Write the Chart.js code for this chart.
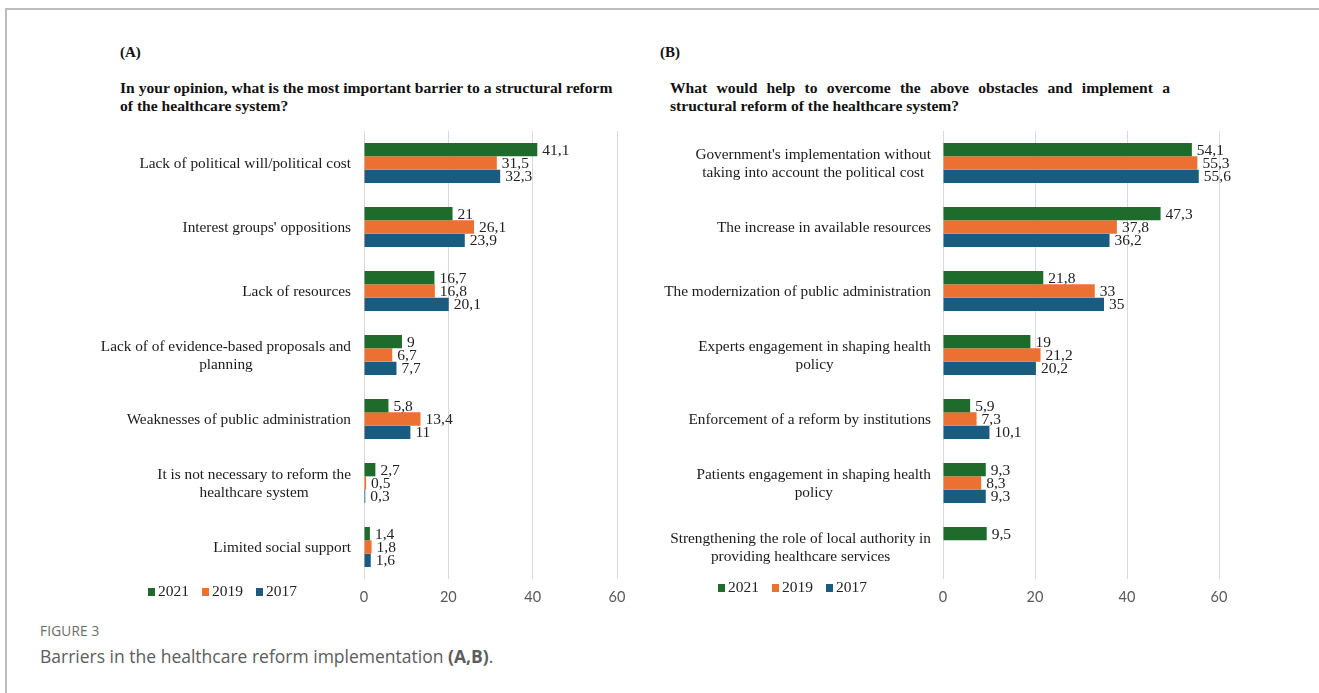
<!DOCTYPE html>
<html>
<head>
<meta charset="utf-8">
<script src="https://cdn.jsdelivr.net/npm/chart.js@4.4.1/dist/chart.umd.min.js"></script>
<style>
  html, body { margin: 0; padding: 0; background: #fff; }
  #wrap { position: relative; width: 1319px; height: 693px; overflow: hidden; background: #fff; }
  .frameTop { position: absolute; left: 5px; top: 8px; width: 1314px; height: 2px; background: #bdbdbd; }
  .frameLeft { position: absolute; left: 5px; top: 8px; width: 2px; height: 685px; background: #bdbdbd; }
  .serif { font-family: "Liberation Serif", "Times New Roman", serif; color: #111; }
  .panelTag { position: absolute; font-weight: bold; font-size: 15px; line-height: 18px; }
  .title { position: absolute; font-weight: bold; font-size: 15.6px; line-height: 18px; white-space: nowrap; }
  .just { text-align: justify; text-align-last: justify; width: 500px; }
  canvas { position: absolute; }
  .legend { position: absolute; font-family: "Liberation Serif", serif; font-size: 15.5px; color: #222; white-space: nowrap; line-height: 16px; }
  .legend span.sw { display: inline-block; width: 7px; height: 8px; margin-right: 3px; vertical-align: 0px; }
  .legend span.it { margin-right: 13px; }
  .cap1 { position: absolute; left: 40px; top: 621px; font-family: "Open Sans", sans-serif; font-size: 13.6px; color: #6a6a6a; letter-spacing: 0.2px; }
  .cap2 { position: absolute; left: 40px; top: 644px; font-family: "Open Sans", sans-serif; font-size: 17.5px; color: #5c5c5c; }
</style>
</head>
<body>
<div id="wrap">
  <div class="frameTop"></div>
  <div class="frameLeft"></div>

  <div class="panelTag serif" style="left:120px; top:43px;">(A)</div>
  <div class="title serif" style="left:120px; top:79px;">In your opinion, what is the most important barrier to a structural reform<br>of the healthcare system?</div>

  <div class="panelTag serif" style="left:660px; top:43px;">(B)</div>
  <div class="title serif" style="left:670px; top:79px;"><div class="just">What would help to overcome the above obstacles and implement a</div><div>structural reform of the healthcare system?</div></div>

  <canvas id="chartA" width="650" height="489" style="left:0px; top:120px;"></canvas>
  <canvas id="chartB" width="620" height="489" style="left:650px; top:120px;"></canvas>

  <div class="legend" id="legA" style="left:148px; top:583px;"></div>
  <div class="legend" id="legB" style="left:718px; top:579px;"></div>

  <div class="cap1">FIGURE 3</div>
  <div class="cap2">Barriers in the healthcare reform implementation <b>(A,B)</b>.</div>
</div>

<script>
// ---- Data ----
const seriesNames = ["2021", "2019", "2017"];
const seriesColors = ["#1f6b2c", "#ec7032", "#1c5b80"];

const categoriesA = [
  "Lack of political will/political cost",
  "Interest groups' oppositions",
  "Lack of resources",
  ["Lack of of evidence-based proposals and", "planning"],
  "Weaknesses of public administration",
  ["It is not necessary to reform the", "healthcare system"],
  "Limited social support"
];
const a2021 = [41.1, 21, 16.7, 9, 5.8, 2.7, 1.4];
const a2019 = [31.5, 26.1, 16.8, 6.7, 13.4, 0.5, 1.8];
const a2017 = [32.3, 23.9, 20.1, 7.7, 11, 0.3, 1.6];

const categoriesB = [
  ["Government's implementation without", "taking into account the political cost"],
  "The increase in available resources",
  "The modernization of public administration",
  ["Experts engagement in shaping health", "policy"],
  "Enforcement of a reform by institutions",
  ["Patients engagement in shaping health", "policy"],
  ["Strengthening the role of local authority in", "providing healthcare services"]
];
const b2021 = [54.1, 47.3, 21.8, 19, 5.9, 9.3, 9.5];
const b2019 = [55.3, 37.8, 33, 21.2, 7.3, 8.3, null];
const b2017 = [55.6, 36.2, 35, 20.2, 10.1, 9.3, null];

const xTicks = [0, 20, 40, 60];

// ---- Plugins ----
const valueLabels = {
  id: 'valueLabels',
  afterDatasetsDraw(chart) {
    const ctx = chart.ctx;
    ctx.save();
    ctx.font = '15.5px "Liberation Serif", serif';
    ctx.fillStyle = '#222';
    ctx.textAlign = 'left';
    ctx.textBaseline = 'middle';
    chart.data.datasets.forEach((ds, di) => {
      const meta = chart.getDatasetMeta(di);
      meta.data.forEach((el, i) => {
        const v = ds.data[i];
        if (v === null || v === undefined) return;
        ctx.fillText(String(v).replace('.', ','), el.x + 5, el.y + 1);
      });
    });
    ctx.restore();
  }
};

const catLabels = {
  id: 'catLabels',
  afterDraw(chart, args, opts) {
    const ctx = chart.ctx;
    const y = chart.scales.y;
    ctx.save();
    ctx.font = '15.3px "Liberation Serif", serif';
    ctx.fillStyle = '#1a1a1a';
    ctx.textAlign = 'center';
    ctx.textBaseline = 'middle';
    const right = y.right - opts.gap;
    chart.data.labels.forEach((lab, i) => {
      const lines = Array.isArray(lab) ? lab : [lab];
      const w = Math.max(...lines.map(l => ctx.measureText(l).width));
      const cx = right - w / 2;
      const cy = y.getPixelForTick(i);
      const lh = 18;
      lines.forEach((l, k) => {
        ctx.fillText(l, cx, cy + (k - (lines.length - 1) / 2) * lh + 1);
      });
    });
    ctx.restore();
  }
};

function makeChart(id, labels, d1, d2, d3, yWidth, padRight, gap) {
  const data = [d1, d2, d3];
  return new Chart(document.getElementById(id), {
    type: 'bar',
    data: {
      labels: labels,
      datasets: seriesNames.map((n, i) => ({
        label: n,
        data: data[i],
        backgroundColor: seriesColors[i],
        borderWidth: 0,
        categoryPercentage: 0.625,
        barPercentage: 1.0
      }))
    },
    options: {
      indexAxis: 'y',
      responsive: false,
      animation: false,
      devicePixelRatio: 1,
      layout: { padding: { top: 11, right: padRight, left: 0, bottom: 0 } },
      plugins: {
        legend: { display: false },
        tooltip: { enabled: false },
        catLabels: { gap: gap }
      },
      scales: {
        x: {
          min: 0, max: 60,
          afterBuildTicks(scale) { scale.ticks = xTicks.map(v => ({ value: v })); },
          afterFit(scale) { scale.height = 30; },
          grid: { color: '#d9d9d9', lineWidth: 1, drawTicks: false },
          border: { display: false },
          ticks: {
            padding: 10,
            color: '#595959',
            font: { family: 'Lato, "Liberation Sans", sans-serif', size: 14.5 }
          }
        },
        y: {
          afterFit(scale) { scale.width = yWidth; },
          grid: { display: false },
          border: { display: false },
          ticks: { display: false }
        }
      }
    },
    plugins: [valueLabels, catLabels]
  });
}

makeChart('chartA', categoriesA, a2021, a2019, a2017, 364, 33, 13);
makeChart('chartB', categoriesB, b2021, b2019, b2017, 293, 51, 12);

// ---- Legends (HTML) ----
function buildLegend(id) {
  const el = document.getElementById(id);
  el.innerHTML = seriesNames.map((n, i) =>
    '<span class="it"><span class="sw" style="background:' + seriesColors[i] + '"></span>' + n + '</span>'
  ).join('');
}
buildLegend('legA');
buildLegend('legB');
</script>
</body>
</html>
